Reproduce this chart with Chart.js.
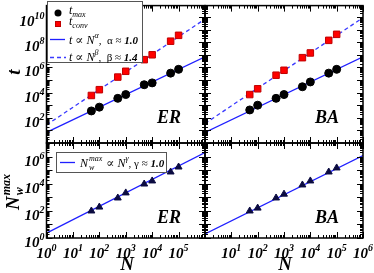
<!DOCTYPE html>
<html>
<head>
<meta charset="utf-8">
<script src="https://cdn.jsdelivr.net/npm/chart.js@4.4.1/dist/chart.umd.min.js"></script>
<style>
  html, body { margin: 0; padding: 0; background: #fff; }
  #wrap { position: relative; width: 374px; height: 273px; }
  #wrap canvas { position: absolute; left: 0; top: 0; }
</style>
</head>
<body>
<div id="wrap">
  <canvas id="tl" width="374" height="273"></canvas>
  <canvas id="tr" width="374" height="273"></canvas>
  <canvas id="bl" width="374" height="273"></canvas>
  <canvas id="br" width="374" height="273"></canvas>
</div>
<script>
// network sizes
const sizes = [50, 100, 500, 1000, 5000, 10000, 50000, 100000];

// top panels: t_max and t_conv
const erTmax = [350, 700, 3500, 7000, 42000, 59000, 350000, 700000];
const erTconv = [5900, 17000, 170000, 490000, 4100000, 10000000, 120000000, 350000000];
const baTmax = [420, 1000, 3500, 7000, 29000, 70000, 350000, 700000];
const baTconv = [7000, 20000, 240000, 590000, 5900000, 14000000, 140000000, 420000000];

// bottom panels: N_w^max
const erNw = [98, 190, 890, 2100, 9500, 16000, 73000, 170000];
const baNw = [98, 160, 890, 1700, 8100, 16000, 73000, 145000];

// fitted power laws, end points read at N = 1 and N = 10^6
const fitN = [1, 1000000];
const erTmaxFit = [7, 7000000];
const erTconvFit = [27, 6800000000];
const baTmaxFit = [7, 7000000];
const baTconvFit = [35, 8800000000];
const erNwFit = [2.3, 2000000];
const baNwFit = [2, 1200000];

// tick label exponents
const topYExp = [2, 4, 6, 8, 10];
const bottomYExp = [0, 2, 4, 6];
const leftXExp = [0, 1, 2, 3, 4, 5];
const rightXExp = [1, 2, 3, 4, 5, 6];

const W = 374;
const H = 273;
const FRAME = { left: 46.5, mid: 205, right: 363, top: 1, split: 143, bottom: 238 };

const SERIF = '"Liberation Serif", "DejaVu Serif", serif';
const TICK_FONT = "bold italic 15px " + SERIF;
const TICK_SUP = "bold italic 10px " + SERIF;
const BLUE = "#1f1fff";
const BLUE_DASH = "#3a3aff";

function points(xs, ys) {
  return xs.map((x, i) => ({ x, y: ys[i] }));
}

function measureRich(ctx, parts) {
  let w = 0;
  for (const p of parts) {
    ctx.font = p.font;
    if (!p.hold) w += ctx.measureText(p.text).width + (p.gap || 0);
  }
  return w;
}

function drawRich(ctx, x, y, parts) {
  ctx.textAlign = "left";
  ctx.textBaseline = "alphabetic";
  for (const p of parts) {
    ctx.font = p.font;
    ctx.fillText(p.text, x, y + (p.dy || 0));
    if (!p.hold) x += ctx.measureText(p.text).width + (p.gap || 0);
  }
}

function drawPow(ctx, exp, x, y, align) {
  const parts = [
    { text: "10", font: TICK_FONT },
    { text: String(exp), font: TICK_SUP, dy: -7 },
  ];
  const w = measureRich(ctx, parts);
  drawRich(ctx, align === "right" ? x - w : x - w / 2, y, parts);
}

function logTicks(min, max) {
  const out = [];
  for (let e = Math.floor(Math.log10(min)); e <= Math.ceil(Math.log10(max)); e++) {
    for (let k = 1; k <= 9; k++) {
      const v = k * Math.pow(10, e);
      if (v >= min * 0.999 && v <= max * 1.001) out.push({ v, major: k === 1 });
    }
  }
  return out;
}

const panelPlugin = {
  id: "panel",
  afterDraw(chart, args, opts) {
    const ctx = chart.ctx;
    const a = chart.chartArea;
    const xs = chart.scales.x;
    const ys = chart.scales.y;
    ctx.save();
    ctx.strokeStyle = "#000";
    ctx.fillStyle = "#000";

    // inward tick marks on all four sides
    ctx.lineWidth = 1;
    ctx.beginPath();
    for (const t of logTicks(xs.min, xs.max)) {
      const px = Math.round(xs.getPixelForValue(t.v)) + 0.5;
      const len = t.major ? 6 : 3;
      ctx.moveTo(px, a.bottom); ctx.lineTo(px, a.bottom - len);
      ctx.moveTo(px, a.top); ctx.lineTo(px, a.top + len);
    }
    for (const t of logTicks(ys.min, ys.max)) {
      const py = Math.round(ys.getPixelForValue(t.v)) + 0.5;
      const len = t.major ? 6 : 3;
      ctx.moveTo(a.left, py); ctx.lineTo(a.left + len, py);
      ctx.moveTo(a.right, py); ctx.lineTo(a.right - len, py);
    }
    ctx.stroke();

    ctx.lineWidth = 1.5;
    ctx.strokeRect(a.left, a.top, a.right - a.left, a.bottom - a.top);

    (opts.yExp || []).forEach((e) => {
      drawPow(ctx, e, a.left - 2, ys.getPixelForValue(Math.pow(10, e)) + 9, "right");
    });
    (opts.xExp || []).forEach((e) => {
      drawPow(ctx, e, xs.getPixelForValue(Math.pow(10, e)), 258, "center");
    });

    if (opts.tag) {
      ctx.font = "bold italic 18px " + SERIF;
      ctx.textAlign = "right";
      ctx.textBaseline = "middle";
      ctx.fillText(opts.tag, a.right - 24, opts.tagY);
    }
    if (opts.extra) opts.extra(ctx, chart);
    ctx.restore();
  },
};

function legendTop(ctx) {
  const it = "italic 12px " + SERIF;
  const sm = "italic 8px " + SERIF;
  const up = "11px " + SERIF;
  const num = "bold italic 11px " + SERIF;
  ctx.fillStyle = "#fff";
  ctx.fillRect(47, 1, 96, 62);
  ctx.strokeStyle = "#555";
  ctx.lineWidth = 1;
  ctx.strokeRect(47.5, 1.5, 95, 61);

  ctx.fillStyle = "#000";
  ctx.beginPath(); ctx.arc(58, 13, 3.5, 0, Math.PI * 2); ctx.fill();
  ctx.fillStyle = "#ff0000";
  ctx.fillRect(55, 21, 6, 6);
  ctx.strokeStyle = "#c00000";
  ctx.strokeRect(55.5, 21.5, 5, 5);

  ctx.strokeStyle = BLUE; ctx.lineWidth = 1.3;
  ctx.beginPath(); ctx.moveTo(50, 39.5); ctx.lineTo(65, 39.5); ctx.stroke();
  ctx.strokeStyle = BLUE_DASH; ctx.setLineDash([4, 3]);
  ctx.beginPath(); ctx.moveTo(50, 57.5); ctx.lineTo(66, 57.5); ctx.stroke();
  ctx.setLineDash([]);

  ctx.fillStyle = "#000";
  drawRich(ctx, 69, 14, [{ text: "t", font: it }, { text: "max", font: sm, dy: 3 }]);
  drawRich(ctx, 69, 25, [{ text: "t", font: it }, { text: "conv", font: sm, dy: 3 }]);
  drawRich(ctx, 69, 44, [
    { text: "t \u221D N", font: it },
    { text: "\u03B1", font: sm, dy: -6 },
    { text: ",  \u03B1 \u2248 ", font: up },
    { text: "1.0", font: num },
  ]);
  drawRich(ctx, 69, 61, [
    { text: "t \u221D N", font: it },
    { text: "\u03B2", font: sm, dy: -6 },
    { text: ",  \u03B2 \u2248 ", font: up },
    { text: "1.4", font: num },
  ]);
}

function legendBottom(ctx) {
  const it = "italic 12px " + SERIF;
  const sm = "italic 8px " + SERIF;
  const up = "11px " + SERIF;
  const num = "bold italic 11px " + SERIF;
  ctx.fillStyle = "#fff";
  ctx.fillRect(56, 152, 111, 21);
  ctx.strokeStyle = "#555";
  ctx.lineWidth = 1;
  ctx.strokeRect(56.5, 152.5, 110, 20);
  ctx.strokeStyle = BLUE; ctx.lineWidth = 1.3;
  ctx.beginPath(); ctx.moveTo(60, 162.5); ctx.lineTo(75, 162.5); ctx.stroke();
  ctx.fillStyle = "#000";
  drawRich(ctx, 80, 167, [
    { text: "N", font: it, gap: 1 },
    { text: "w", font: sm, dy: 3, hold: true },
    { text: "max", font: sm, dy: -6, gap: 4 },
    { text: "\u221D N", font: it },
    { text: "\u03B3", font: sm, dy: -6 },
    { text: ", \u03B3 \u2248 ", font: up },
    { text: "1.0", font: num },
  ]);
}

function axisTitles(ctx) {
  const big = "bold italic 19px " + SERIF;
  const sm = "bold italic 12px " + SERIF;
  ctx.fillStyle = "#000";
  ctx.textAlign = "center";
  ctx.textBaseline = "middle";
  ctx.font = big;
  ctx.fillText("N", 127, 265);
  ctx.fillText("N", 285, 265);

  ctx.save();
  ctx.translate(15, 72);
  ctx.rotate(-Math.PI / 2);
  ctx.fillText("t", 0, 0);
  ctx.restore();

  const parts = [
    { text: "N", font: big, gap: 1 },
    { text: "w", font: sm, dy: 4, hold: true },
    { text: "max", font: sm, dy: -9 },
  ];
  ctx.save();
  ctx.translate(19, 192);
  ctx.rotate(-Math.PI / 2);
  const w = measureRich(ctx, parts);
  drawRich(ctx, -w / 2, 0, parts);
  ctx.restore();
}

function buildPanel(id, cfg) {
  const datasets = cfg.series.map((s) => s.line
    ? {
        data: points(fitN, s.data),
        showLine: true,
        pointRadius: 0,
        borderColor: s.color,
        borderWidth: 1.3,
        borderDash: s.dash || [],
      }
    : {
        data: points(sizes, s.data),
        pointStyle: s.style,
        pointRadius: s.radius,
        backgroundColor: s.fill,
        borderColor: s.edge,
        borderWidth: 1,
      });
  return new Chart(document.getElementById(id), {
    type: "scatter",
    data: { datasets },
    plugins: [panelPlugin],
    options: {
      responsive: false,
      animation: false,
      events: [],
      devicePixelRatio: 1,
      layout: { padding: cfg.pad },
      plugins: {
        legend: { display: false },
        tooltip: { enabled: false },
        panel: cfg.panel,
      },
      scales: {
        x: { type: "logarithmic", min: 1, max: 1000000, display: false },
        y: { type: "logarithmic", min: 1, max: cfg.yMax, display: false },
      },
    },
  });
}

const circle = { style: "circle", radius: 4, fill: "#000", edge: "#000" };
const square = { style: "rect", radius: 4.6, fill: "#ff0000", edge: "#c00000" };
const tri = { style: "triangle", radius: 4, fill: "#0b0b40", edge: "#0b0b40" };
const TOP_MAX = 80000000000;
const BOTTOM_MAX = 10000000;

buildPanel("tl", {
  pad: { left: FRAME.left, right: W - FRAME.mid, top: FRAME.top, bottom: H - FRAME.split },
  yMax: TOP_MAX,
  series: [
    { ...circle, data: erTmax },
    { ...square, data: erTconv },
    { line: true, data: erTmaxFit, color: BLUE },
    { line: true, data: erTconvFit, color: BLUE_DASH, dash: [4, 3] },
  ],
  panel: { yExp: topYExp, tag: "ER", tagY: 118, extra: (ctx) => { legendTop(ctx); axisTitles(ctx); } },
});

buildPanel("tr", {
  pad: { left: FRAME.mid, right: W - FRAME.right, top: FRAME.top, bottom: H - FRAME.split },
  yMax: TOP_MAX,
  series: [
    { ...circle, data: baTmax },
    { ...square, data: baTconv },
    { line: true, data: baTmaxFit, color: BLUE },
    { line: true, data: baTconvFit, color: BLUE_DASH, dash: [4, 3] },
  ],
  panel: { tag: "BA", tagY: 118 },
});

buildPanel("bl", {
  pad: { left: FRAME.left, right: W - FRAME.mid, top: FRAME.split, bottom: H - FRAME.bottom },
  yMax: BOTTOM_MAX,
  series: [
    { ...tri, data: erNw },
    { line: true, data: erNwFit, color: BLUE },
  ],
  panel: { yExp: bottomYExp, xExp: leftXExp, tag: "ER", tagY: 218, extra: legendBottom },
});

buildPanel("br", {
  pad: { left: FRAME.mid, right: W - FRAME.right, top: FRAME.split, bottom: H - FRAME.bottom },
  yMax: BOTTOM_MAX,
  series: [
    { ...tri, data: baNw },
    { line: true, data: baNwFit, color: BLUE },
  ],
  panel: { xExp: rightXExp, tag: "BA", tagY: 218 },
});
</script>
</body>
</html>
